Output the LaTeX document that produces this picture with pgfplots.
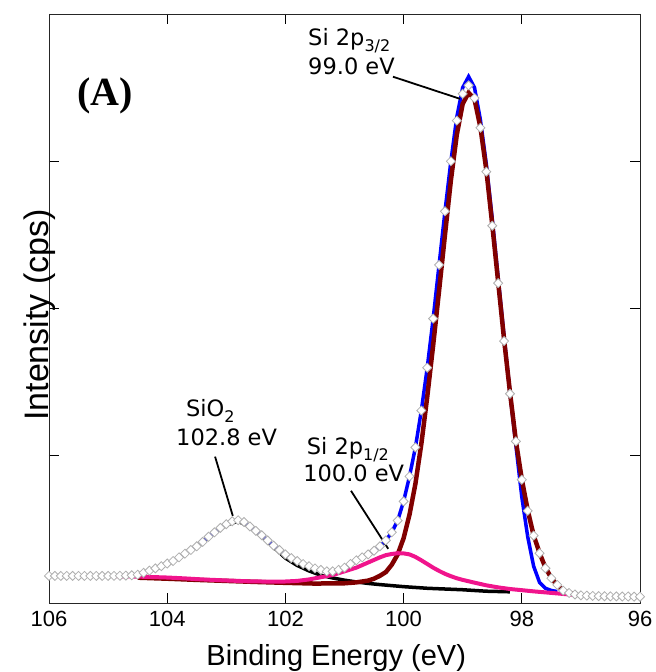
\documentclass[border=0pt]{standalone}
\usepackage{fontspec}
\setmainfont{Liberation Sans}
\newfontfamily\annfont{DejaVu Sans}
\newfontfamily\serifbf{Liberation Serif}
\usepackage{pgfplots}
\pgfplotsset{compat=1.18}
\definecolor{cblue}{RGB}{0,0,255}
\definecolor{cbrown}{RGB}{128,0,0}
\definecolor{cpink}{RGB}{240,20,140}
\definecolor{cmark}{RGB}{175,175,175}
\newcommand\sub[1]{\raisebox{-6pt}{\fontsize{16pt}{16pt}\selectfont #1}}
\begin{document}
\begin{tikzpicture}
\begin{axis}[name=ax, scale only axis, width=591pt, height=589pt,
  x dir=reverse, xmin=96, xmax=106, ymin=0, ymax=4,
  xtick={96,98,100,102,104,106}, ytick={1,2,3}, yticklabels={},
  tick align=inside, major tick length=10pt,
  every tick/.style={black, line width=0.8pt},
  axis line style={black!85, line width=0.8pt},
  /pgf/number format/assume math mode=true,
  ticklabel style={font=\fontsize{22pt}{22pt}\selectfont},
  xticklabel style={yshift=-5pt},
  xlabel={Binding Energy (eV)},
  xlabel style={font=\fontsize{29pt}{29pt}\selectfont, anchor=base, at={(rel axis cs:0.486,0)}, yshift=-62pt},
  ylabel={Intensity (cps)},
  ylabel style={font=\fontsize{34pt}{34pt}\selectfont, anchor=base, at={(rel axis cs:0,0.54)}, rotate=0, xshift=-30pt},
  clip=false]
% black: SiO2 component + background
\addplot[black, line width=3.5pt] table {
104.4 0.200
104.2 0.230
104.0 0.262
103.8 0.305
103.6 0.355
103.4 0.410
103.2 0.475
103.0 0.530
102.8 0.556
102.6 0.515
102.4 0.452
102.2 0.380
102.0 0.305
101.9 0.280
101.8 0.255
101.6 0.218
101.4 0.188
101.2 0.170
101.0 0.155
100.8 0.143
100.6 0.133
100.4 0.125
100.2 0.118
100.0 0.111
99.6 0.100
99.0 0.090
98.6 0.080
98.2 0.076
};
% blue: envelope
\addplot[cblue, line width=3.5pt] table {
104.4 0.205
104.3 0.220
104.2 0.235
104.1 0.250
104.0 0.268
103.9 0.285
103.8 0.310
103.7 0.335
103.6 0.360
103.5 0.385
103.4 0.415
103.3 0.450
103.2 0.480
103.1 0.510
103.0 0.535
102.9 0.555
102.8 0.562
102.7 0.550
102.6 0.520
102.5 0.490
102.4 0.460
102.3 0.425
102.2 0.390
102.1 0.360
102.0 0.330
101.9 0.305
101.8 0.285
101.7 0.265
101.6 0.250
101.5 0.235
101.4 0.225
101.3 0.215
101.2 0.215
101.1 0.225
101.0 0.240
100.9 0.265
100.8 0.290
100.7 0.310
100.6 0.330
100.5 0.355
100.4 0.385
100.3 0.425
100.2 0.480
100.1 0.560
100.0 0.690
99.9 0.860
99.8 1.057
99.7 1.307
99.6 1.598
99.5 1.931
99.4 2.296
99.3 2.660
99.2 3.000
99.1 3.300
99.0 3.500
98.9 3.575
98.8 3.500
98.7 3.280
98.6 2.980
98.5 2.610
98.4 2.210
98.3 1.810
98.2 1.430
98.1 1.070
98.0 0.720
97.9 0.450
97.8 0.250
97.7 0.140
97.6 0.100
97.5 0.085
97.4 0.078
};
% brown: Si 2p3/2 component + background
\addplot[cbrown, line width=4.5pt] table {
104.5 0.172
104.0 0.165
103.5 0.157
103.0 0.150
102.5 0.143
102.0 0.137
101.5 0.132
101.0 0.134
100.8 0.140
100.6 0.152
100.5 0.165
100.4 0.185
100.3 0.210
100.2 0.260
100.1 0.330
100.0 0.440
99.9 0.600
99.8 0.810
99.7 1.080
99.6 1.400
99.5 1.750
99.4 2.120
99.3 2.500
99.2 2.870
99.1 3.180
99.0 3.390
98.9 3.465
98.8 3.420
98.7 3.230
98.6 2.940
98.5 2.570
98.4 2.180
98.3 1.790
98.2 1.430
98.1 1.100
98.0 0.840
97.9 0.630
97.8 0.460
97.7 0.340
97.6 0.240
97.5 0.170
97.4 0.120
97.3 0.085
97.2 0.070
97.1 0.060
};
% pink: Si 2p1/2 component + background
\addplot[cpink, line width=4pt] table {
104.9 0.183
104.6 0.180
104.3 0.177
104.0 0.173
103.7 0.167
103.4 0.160
103.0 0.153
102.6 0.147
102.2 0.145
102.0 0.146
101.8 0.150
101.6 0.160
101.4 0.175
101.2 0.190
101.0 0.215
100.8 0.240
100.6 0.275
100.4 0.310
100.3 0.325
100.2 0.333
100.1 0.338
100.0 0.337
99.9 0.330
99.8 0.313
99.7 0.290
99.6 0.265
99.5 0.240
99.4 0.218
99.3 0.198
99.2 0.182
99.1 0.168
99.0 0.157
98.8 0.138
98.6 0.120
98.4 0.106
98.2 0.095
98.0 0.087
97.8 0.079
97.6 0.072
97.4 0.065
97.2 0.058
97.1 0.055
};
% measured data
\addplot[only marks, mark=square*, mark size=3.2pt, mark options={rotate=45, fill=white, draw=cmark, line width=0.8pt}] table {
106.0 0.184
105.9 0.184
105.8 0.184
105.7 0.184
105.6 0.184
105.5 0.184
105.4 0.184
105.3 0.184
105.2 0.184
105.1 0.184
105.0 0.184
104.9 0.184
104.8 0.185
104.7 0.186
104.6 0.188
104.5 0.192
104.4 0.205
104.3 0.220
104.2 0.235
104.1 0.250
104.0 0.268
103.9 0.285
103.8 0.310
103.7 0.335
103.6 0.360
103.5 0.385
103.4 0.415
103.3 0.450
103.2 0.480
103.1 0.510
103.0 0.535
102.9 0.555
102.8 0.562
102.7 0.550
102.6 0.520
102.5 0.490
102.4 0.460
102.3 0.425
102.2 0.390
102.1 0.360
102.0 0.330
101.9 0.305
101.8 0.285
101.7 0.265
101.6 0.250
101.5 0.235
101.4 0.225
101.3 0.215
101.2 0.215
101.1 0.225
101.0 0.240
100.9 0.265
100.8 0.290
100.7 0.310
100.6 0.330
100.5 0.355
100.4 0.385
100.3 0.425
100.2 0.480
100.1 0.560
100.0 0.690
99.9 0.860
99.8 1.057
99.7 1.307
99.6 1.598
99.5 1.931
99.4 2.296
99.3 2.660
99.2 3.000
99.1 3.276
99.0 3.458
98.9 3.515
98.8 3.429
98.7 3.227
98.6 2.929
98.5 2.562
98.4 2.172
98.3 1.779
98.2 1.421
98.1 1.098
98.0 0.837
97.9 0.626
97.8 0.458
97.7 0.338
97.6 0.236
97.5 0.168
97.4 0.123
97.3 0.084
97.2 0.068
97.1 0.058
97.0 0.052
96.9 0.050
96.8 0.048
96.7 0.047
96.6 0.046
96.5 0.045
96.4 0.045
96.3 0.044
96.2 0.044
96.1 0.043
96.0 0.043
};
% annotations
\draw[black, line width=1.8pt] (axis cs:100.18,3.574) -- (axis cs:99.046,3.424);
\draw[black, line width=1.8pt] (axis cs:103.19,0.994) -- (axis cs:102.89,0.592);
\draw[black, line width=1.8pt] (axis cs:100.89,0.762) -- (axis cs:100.26,0.368);
\node[anchor=base west, inner sep=0pt, font=\annfont\fontsize{22.5pt}{22.5pt}\selectfont] at (axis cs:101.617,3.785) {Si 2p\sub{3/2}};
\node[anchor=base west, inner sep=0pt, font=\annfont\fontsize{22.5pt}{22.5pt}\selectfont] at (axis cs:101.617,3.587) {99.0 eV};
\node[anchor=base west, inner sep=0pt, font=\annfont\fontsize{22.5pt}{22.5pt}\selectfont] at (axis cs:103.682,1.266) {SiO\sub{2}};
\node[anchor=base west, inner sep=0pt, font=\annfont\fontsize{22.5pt}{22.5pt}\selectfont] at (axis cs:103.851,1.069) {102.8 eV};
\node[anchor=base west, inner sep=0pt, font=\annfont\fontsize{22.5pt}{22.5pt}\selectfont] at (axis cs:101.64,1.0075) {Si 2p\sub{1/2}};
\node[anchor=base west, inner sep=0pt, font=\annfont\fontsize{22.5pt}{22.5pt}\selectfont] at (axis cs:101.70,0.824) {100.0 eV};
\node[anchor=base west, inner sep=0pt, font=\serifbf\bfseries\fontsize{40pt}{40pt}\selectfont] at (axis cs:105.526,3.376) {(A)};
\end{axis}
\pgfresetboundingbox
\path ([shift={(-49pt,-69pt)}]ax.south west) rectangle ([shift={(15pt,14pt)}]ax.north east);
\end{tikzpicture}
\end{document}
